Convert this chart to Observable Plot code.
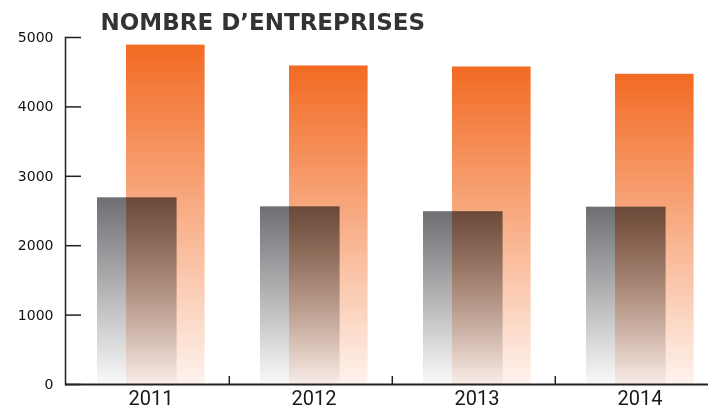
<!DOCTYPE html>
<html>
<head>
<meta charset="utf-8">
<script src="https://cdn.jsdelivr.net/npm/d3@7"></script>
<script src="https://cdn.jsdelivr.net/npm/@observablehq/plot@0.6"></script>
<style>
  html, body { margin: 0; padding: 0; background: #fff; }
  svg { display: block; }
</style>
</head>
<body>
<div id="chart"></div>
<script>
const title = "NOMBRE D’ENTREPRISES";
const years = ["2011", "2012", "2013", "2014"];
const entreprises = [4890, 4590, 4575, 4470];   // orange bars
const autres = [2690, 2560, 2490, 2555];        // grey bars
const yTicks = [0, 1000, 2000, 3000, 4000, 5000];

const data = years.map((year, i) => ({year, orange: entreprises[i], grey: autres[i]}));

const svg = Plot.plot({
  width: 708,
  height: 410,
  marginTop: 37,
  marginBottom: 26,
  marginLeft: 65,
  marginRight: 0,
  style: {background: "#fff", color: "#222"},
  x: {domain: years, range: [65, 718.6], padding: 0, label: null},
  y: {domain: [0, 5000], label: null},
  marks: [
    Plot.barY(data, {x: "year", y: "orange", fill: "url(#gOrange)", insetLeft: 60, insetRight: 24.4}),
    Plot.barY(data, {x: "year", y: "grey", fill: "url(#gGrey)", insetLeft: 31, insetRight: 52.4, mixBlendMode: "multiply"}),
    Plot.frame({anchor: "left", stroke: "#222", strokeWidth: 1.5}),
    Plot.ruleY([0], {stroke: "#222", strokeWidth: 2}),
    Plot.axisY({ticks: yTicks, tickSize: -16, fill: "none", stroke: "#222", strokeWidth: 1.5}),
    Plot.axisY({ticks: yTicks, tickSize: 0, tickPadding: 12, tickFormat: d => String(d), fontSize: 14, fontFamily: "DejaVu Sans", fill: "#111"}),
    Plot.ruleX(years.slice(1), {x: d => d, dx: -81.7, y1: 0, y2: 115, stroke: "#222", strokeWidth: 1.5}),
    Plot.axisX({tickSize: 0, tickPadding: 6, fontSize: 20, fontFamily: "Roboto", fill: "#1a1a1a", dx: 3}),
    Plot.text([title], {text: d => d, frameAnchor: "top-left", textAnchor: "start", lineAnchor: "bottom", dx: 35, dy: -8, fontSize: 23, fontWeight: "bold", fontFamily: "DejaVu Sans", fill: "#333"})
  ]
});

const defs = d3.select(svg).insert("defs", ":first-child");
function grad(id, color, bottomOpacity) {
  const g = defs.append("linearGradient").attr("id", id).attr("x1", 0).attr("y1", 0).attr("x2", 0).attr("y2", 1);
  g.append("stop").attr("offset", 0).attr("stop-color", color).attr("stop-opacity", 1);
  g.append("stop").attr("offset", 1).attr("stop-color", color).attr("stop-opacity", bottomOpacity);
}
grad("gOrange", "#f26a22", 0.08);
grad("gGrey", "#6e6f73", 0.04);

document.getElementById("chart").appendChild(svg);
</script>
</body>
</html>
